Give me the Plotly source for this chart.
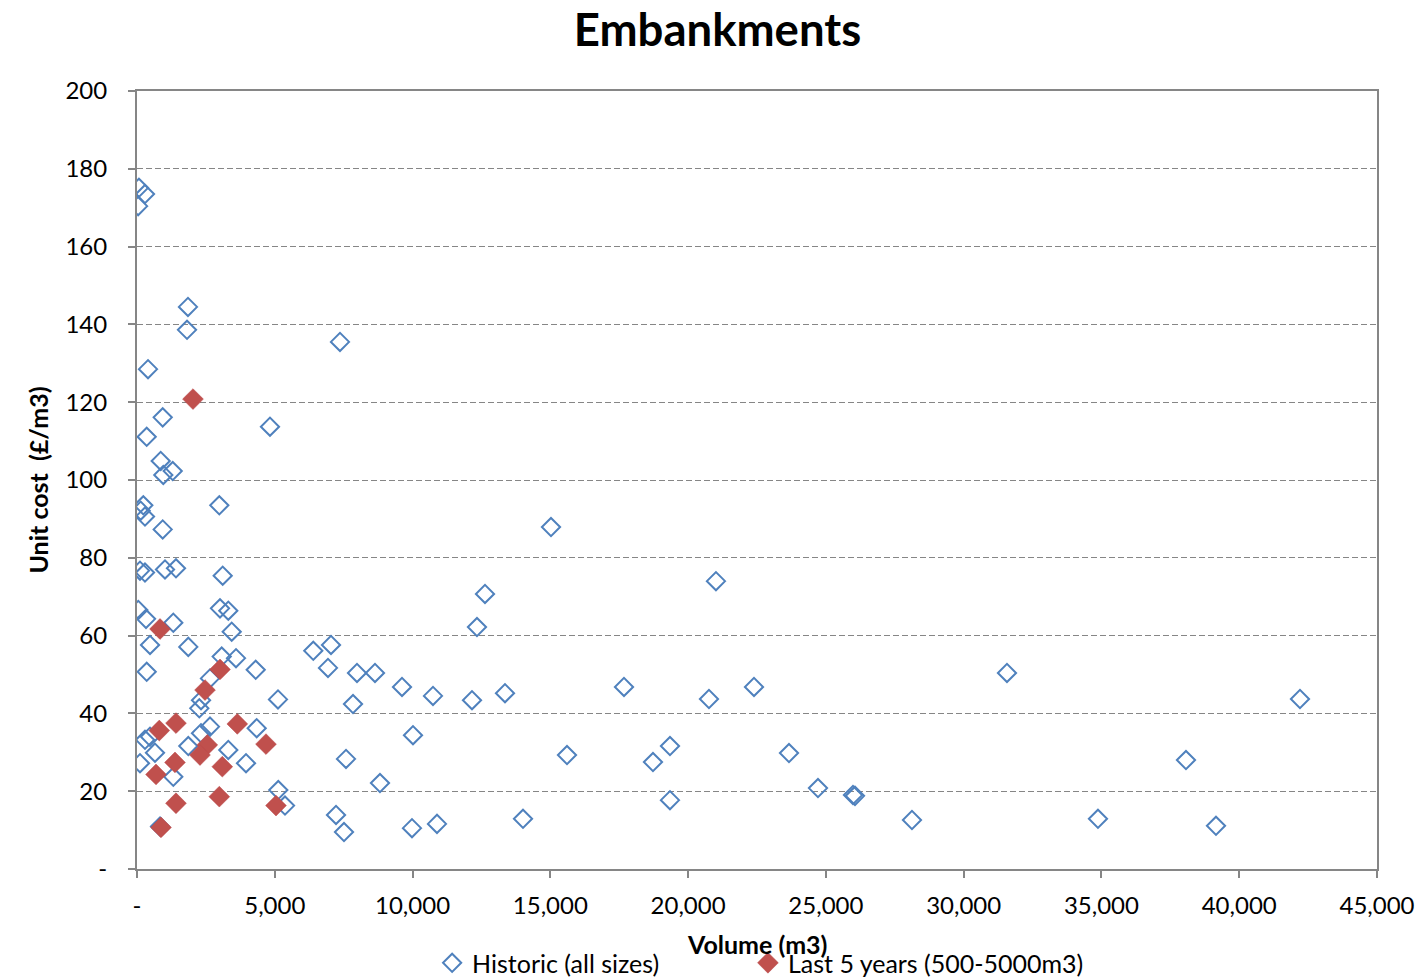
import plotly.graph_objects as go

# Historic embankment schemes (all sizes): volume (m3) and unit cost (£/m3)
hist_volume = [70, 290, 40, 1850, 1815, 400, 933, 352, 4826, 860, 954, 1296, 2987, 229, 134, 290,
               933, 109, 290, 1016, 1415, 3110, 47, 327, 1317, 3012, 3313, 3437, 472, 1862, 6397,
               3074, 3593, 352, 4308, 2649, 5117, 2323, 2261, 2649, 2323, 1862, 3313, 3956, 1317,
               4344, 5128, 5371, 835, 109, 290, 472, 653, 7367, 6931, 7040, 7984, 8637, 7839, 9617,
               10742, 7585, 8818, 7222, 7512, 9980, 10887, 10016, 12157, 12338, 12629, 13355, 15024,
               15605, 14008, 17673, 18725, 19342, 19342, 20757, 21011, 22391, 23661, 24713, 25983,
               26056, 28124, 31572, 34874, 38068, 39157, 42205]
hist_cost = [175.1, 173.5, 170.4, 144.5, 138.6, 128.5, 116.1, 111.1, 113.7, 104.9, 101.3, 102.3,
             93.5, 93.5, 92.1, 90.6, 87.3, 76.7, 76.2, 77.0, 77.3, 75.4, 66.6, 64.3, 63.3, 67.0,
             66.4, 61.0, 57.6, 57.1, 56.1, 54.6, 54.2, 50.7, 51.2, 49.0, 43.6, 43.4, 41.3, 36.6,
             34.9, 31.6, 30.6, 27.2, 23.7, 36.2, 20.3, 16.3, 10.9, 27.2, 33.2, 34.0, 29.9, 135.5,
             51.7, 57.6, 50.4, 50.4, 42.4, 46.8, 44.5, 28.3, 22.1, 13.9, 9.5, 10.5, 11.6, 34.4,
             43.4, 62.2, 70.7, 45.2, 87.9, 29.3, 12.9, 46.8, 27.5, 31.6, 17.7, 43.7, 74.0, 46.8,
             29.8, 20.8, 19.0, 18.8, 12.6, 50.4, 12.9, 28.0, 11.1, 43.7]

# Schemes from the last 5 years (500-5000 m3)
recent_volume = [2032, 835, 3012, 2468, 3640, 1415, 809, 4681, 2551, 2286, 1379, 690, 3096,
                 1415, 2987, 5044, 871]
recent_cost = [120.8, 61.7, 51.3, 46.0, 37.3, 37.5, 35.6, 32.1, 31.9, 29.3, 27.4, 24.3, 26.3,
               16.9, 18.6, 16.3, 10.7]

x_tick_vals = [0, 5000, 10000, 15000, 20000, 25000, 30000, 35000, 40000, 45000]
x_tick_text = ["-", "5,000", "10,000", "15,000", "20,000", "25,000", "30,000", "35,000",
               "40,000", "45,000"]
y_tick_vals = [0, 20, 40, 60, 80, 100, 120, 140, 160, 180, 200]
y_tick_text = ["-", "20", "40", "60", "80", "100", "120", "140", "160", "180", "200"]

FONT = "Lato, 'Open Sans', sans-serif"
AXIS_GREY = "#868686"

fig = go.Figure()
fig.add_trace(go.Scatter(
    x=hist_volume, y=hist_cost, mode="markers", name="Historic (all sizes)", legend="legend",
    marker=dict(symbol="diamond-open", size=14, color="#4F81BD", line=dict(width=2, color="#4F81BD")),
))
fig.add_trace(go.Scatter(
    x=recent_volume, y=recent_cost, mode="markers", name="Last 5 years (500-5000m3)", legend="legend2",
    marker=dict(symbol="diamond", size=16, color="#C0504D", line=dict(width=0.5, color="#B9474A")),
))

legend_style = dict(orientation="h", yref="container", y=0.0163, yanchor="middle",
                    xanchor="left", font=dict(family=FONT, size=25, color="black"),
                    bgcolor="rgba(0,0,0,0)", itemwidth=30)

fig.update_layout(
    width=1418, height=979,
    margin=dict(l=137, r=41, t=91, b=110),
    paper_bgcolor="white", plot_bgcolor="white",
    font=dict(family=FONT, size=24, color="black"),
    title=dict(text="<b>Embankments</b>", x=0.506, xref="container", xanchor="center",
               y=0.969, yref="container", yanchor="middle",
               font=dict(family=FONT, size=45.5, color="black")),
    showlegend=True,
    legend=dict(x=0.238, **legend_style),
    legend2=dict(x=0.4927, **legend_style),
    # x-axis title, placed between the tick labels and the legend row
    annotations=[dict(text="<b>Volume (m3)</b>", x=0.5, xref="paper", xanchor="center",
                      y=-0.0964, yref="paper", yanchor="middle",
                      showarrow=False, font=dict(family=FONT, size=25, color="black"))],
)

fig.update_xaxes(
    range=[0, 45000], tickvals=x_tick_vals, ticktext=x_tick_text, automargin=False,
    showline=True, linecolor=AXIS_GREY, linewidth=2, mirror=True,
    ticks="outside", ticklen=7, tickcolor=AXIS_GREY, tickwidth=2,
    ticklabelstandoff=7,
    showgrid=False, zeroline=False,
)
fig.update_yaxes(
    range=[0, 200], tickvals=y_tick_vals, ticktext=y_tick_text, automargin=False,
    showline=True, linecolor=AXIS_GREY, linewidth=2, mirror=True,
    ticks="outside", ticklen=7, tickcolor=AXIS_GREY, tickwidth=2,
    ticklabelstandoff=16,
    showgrid=True, gridcolor=AXIS_GREY, gridwidth=1.3, griddash="6px,3px", zeroline=False,
    title=dict(text="<b>Unit cost \u00a0(£/m3)</b>", standoff=10, font=dict(family=FONT, size=25)),
)

fig.write_html("out.html")
